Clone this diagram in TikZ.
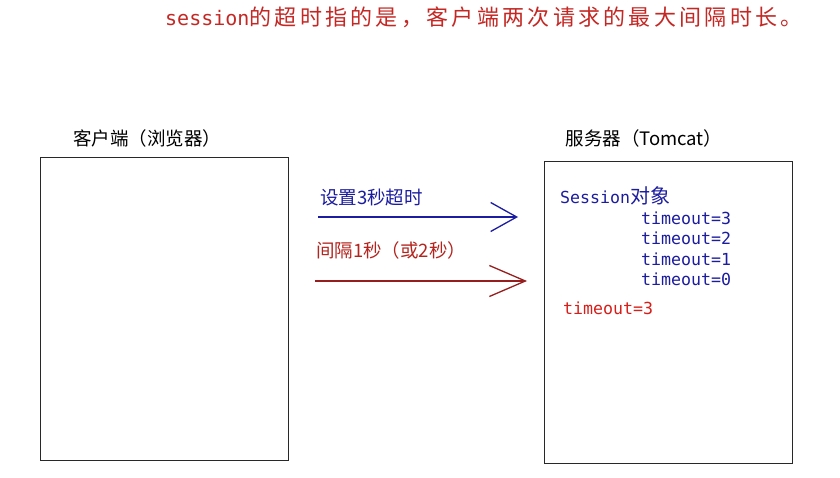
\documentclass[tikz,border=0pt]{standalone}
\usepackage{fontspec}
\setmainfont{Noto Sans CJK SC}
\newfontfamily\cjkf{Noto Sans CJK SC}
\newfontfamily\monof{DejaVu Sans Mono}
\usetikzlibrary{arrows.meta}
\definecolor{titlered}{RGB}{196,40,36}
\definecolor{lblred}{RGB}{180,36,30}
\definecolor{arrred}{RGB}{150,30,30}
\definecolor{tored}{RGB}{215,30,25}
\definecolor{navy}{RGB}{28,28,160}
\definecolor{boxline}{RGB}{40,40,40}
\tikzset{
  panel/.style={draw=boxline, line width=1.3pt, minimum width=248pt, minimum height=303pt, anchor=north west, inner sep=0pt},
  caption/.style={inner sep=0pt, text=black, font=\fontsize{18.5}{22}\selectfont},
  arrlbl/.style={inner sep=0pt, anchor=west, font=\fontsize{18.5}{22}\selectfont},
  monotxt/.style={inner sep=0pt, anchor=west, font=\fontsize{16.6}{20}\monof},
  flow/.style={line width=1.4pt}
}
\begin{document}
\begin{tikzpicture}[x=1pt,y=-1pt]
\useasboundingbox[fill=white] (0,0) rectangle (840,478);

% title
\node[anchor=west, inner sep=0pt, text=titlered] (title) at (165,17)
  {\fontsize{20}{24}\monof session\fontsize{22}{26}\cjkf\addfontfeature{LetterSpace=15}的超时指的是，客户端两次请求的最大间隔时长。};

% boxes
\node[panel] (client) at (40,157) {};
\node[panel, minimum height=302pt] (server) at (544,161) {};

\node[caption] (clientlbl) at (147,138) {客户端（浏览器）};
\node[caption] (serverlbl) at (644,138) {服务器（Tomcat）};

% arrows
\coordinate (a1s) at (318,217);
\coordinate (a1e) at (518,217);
\draw[flow, draw=navy, -{Straight Barb[length=26pt, width=29pt, line width=1.3pt]}] (a1s) -- (a1e);
\node[arrlbl, text=navy] (lbl1) at (320,197) {设置3秒超时};

\coordinate (a2s) at (315,281);
\coordinate (a2e) at (527,281);
\draw[flow, draw=arrred, -{Straight Barb[length=36pt, width=31pt, line width=1.3pt]}] (a2s) -- (a2e);
\node[arrlbl, text=lblred] (lbl2) at (316,250) {间隔1秒（或2秒）};

% server contents
\node[inner sep=0pt, anchor=west, text=navy] (sess) at (560,196)
  {\fontsize{16.6}{20}\monof Session\fontsize{20}{24}\cjkf 对象};
\node[monotxt, text=navy] (t3) at (641,218) {timeout=3};
\node[monotxt, text=navy] (t2) at (641,238.5) {timeout=2};
\node[monotxt, text=navy] (t1) at (641,259) {timeout=1};
\node[monotxt, text=navy] (t0) at (641,279) {timeout=0};
\node[monotxt, text=tored] (tr) at (563,308) {timeout=3};
\end{tikzpicture}
\end{document}
